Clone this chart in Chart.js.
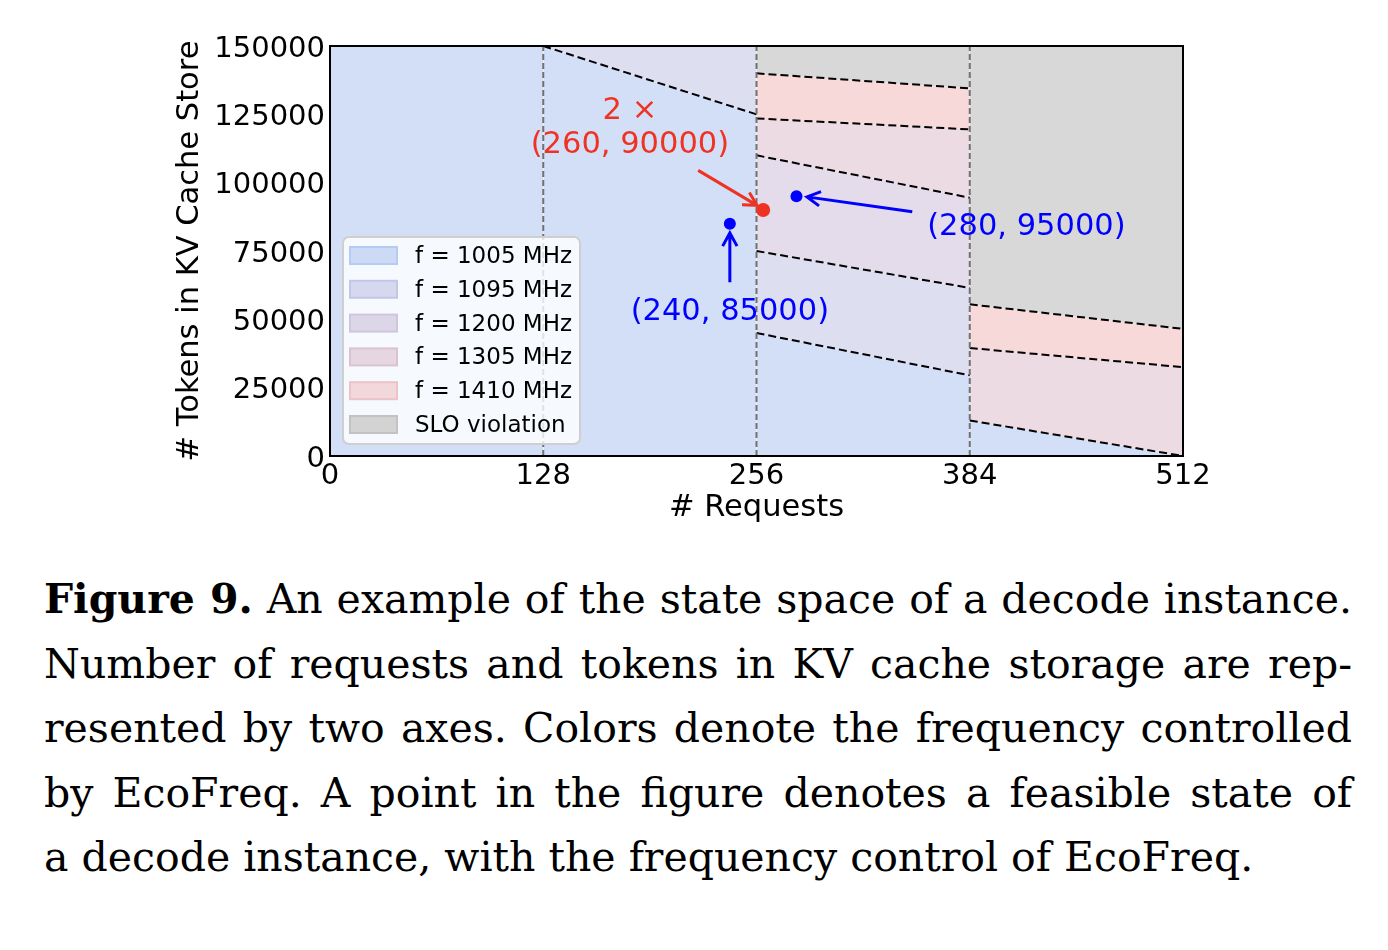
<!DOCTYPE html>
<html>
<head>
<meta charset="utf-8">
<script src="https://cdn.jsdelivr.net/npm/chart.js@4.4.0/dist/chart.umd.min.js"></script>
<style>
  body { margin: 0; background: #fff; width: 1388px; height: 950px; position: relative; overflow: hidden; }
  #wrap { position: absolute; left: 0; top: 0; width: 1388px; height: 540px; }
  #caption { position: absolute; left: 44px; top: 567px; width: 1308px; font-family: 'DejaVu Serif', serif; font-size: 41px; line-height: 64.5px; color: #000; }
  #caption div { text-align: justify; text-align-last: justify; }
  #caption div.last { text-align-last: left; }
</style>
</head>
<body>
<div id="wrap"><canvas id="stateChart" width="1388" height="540"></canvas></div>
<div id="caption">
  <div><b>Figure 9.</b> An example of the state space of a decode instance.</div>
  <div>Number of requests and tokens in KV cache storage are rep-</div>
  <div>resented by two axes. Colors denote the frequency controlled</div>
  <div>by EcoFreq. A point in the figure denotes a feasible state of</div>
  <div class="last">a decode instance, with the frequency control of EcoFreq.</div>
</div>
<script>
// Data
const requestTicks = [0, 128, 256, 384, 512];
const tokenMin = 0;
const tokenMax = 150000;
const tokenStep = 25000;

const segStart = [0, 128, 256, 384];
const segEnd = [128, 256, 384, 512];
// dashed region boundaries inside each segment, top to bottom: [tokens at start, tokens at end]
const segLines = [
  [],
  [[150000, 150000], [150000, 125000]],
  [[140000, 134500], [123500, 119500], [110000, 94500], [75000, 61500], [45000, 29500]],
  [[55500, 46500], [39500, 32500], [13000, 0]]
];
// band between consecutive boundaries, top to bottom (index into freqLabels)
const segBands = [
  [0],
  [1, 1, 0],
  [5, 4, 3, 2, 1, 0],
  [5, 4, 3, 0]
];
const freqLabels = ['f = 1005 MHz', 'f = 1095 MHz', 'f = 1200 MHz', 'f = 1305 MHz', 'f = 1410 MHz', 'SLO violation'];

const pointRequests = [260, 240, 280];
const pointTokens = [90000, 85000, 95000];
const noteLines = [['2 \u00d7', '(260, 90000)'], ['(240, 85000)'], ['(280, 95000)']];

// Styles
const bandFill = ['#d3dff6', '#dddef0', '#e4dcea', '#ecdbe3', '#f7d9d9', '#d8d8d8'];
const swatchFill = ['#ccdaf6', '#d5d8ee', '#ddd6e8', '#e6d6e0', '#f2d7db', '#d3d3d3'];
const swatchEdge = ['#b6cbf3', '#c3c7e6', '#cfc5de', '#d9c3d1', '#ebc3c8', '#c2c2c2'];
const pointColors = ['#ee3322', '#0000ff', '#0000ff'];
const pointSizes = [7, 6, 6];
// where each note sits, in data units: text centre, arrow tail, arrow head
const notePlace = [
  { text: [180, 121100], tail: [221, 104500], head: [256.3, 91700] },
  { text: [240, 53800], tail: [240, 63600], head: [240, 81600] },
  { text: [418, 84900], tail: [349.5, 89400], head: [286.3, 94800] }
];
const FONT = 'DejaVu Sans';

// Build datasets
const datasets = [];
segStart.forEach((x0, s) => {
  const x1 = segEnd[s];
  const bounds = [[tokenMax, tokenMax], ...segLines[s], [tokenMin, tokenMin]];
  bounds.forEach((b, i) => {
    const band = segBands[s][i];
    const hasBand = band !== undefined;
    datasets.push({
      data: [{ x: x0, y: b[0] }, { x: x1, y: b[1] }],
      borderWidth: 0,
      borderColor: 'rgba(0,0,0,0)',
      pointRadius: 0,
      backgroundColor: hasBand ? bandFill[band] : 'rgba(0,0,0,0)',
      fill: hasBand ? '+1' : false,
      order: 3
    });
  });
});

// dashed boundary lines
segStart.forEach((x0, s) => {
  segLines[s].forEach(b => {
    datasets.push({
      data: [{ x: x0, y: b[0] }, { x: segEnd[s], y: b[1] }],
      borderColor: '#000',
      borderWidth: 2,
      borderDash: [8, 4],
      pointRadius: 0,
      fill: false,
      order: 2
    });
  });
});

// vertical dividers at the inner ticks
requestTicks.slice(1, -1).forEach(x => {
  datasets.push({
    data: [{ x: x, y: tokenMin }, { x: x, y: tokenMax }],
    borderColor: '#717171',
    borderWidth: 2,
    borderDash: [6, 3],
    pointRadius: 0,
    fill: false,
    order: 1
  });
});

// example states
datasets.push({
  data: pointRequests.map((x, i) => ({ x: x, y: pointTokens[i] })),
  showLine: false,
  pointRadius: pointSizes,
  pointBackgroundColor: pointColors,
  pointBorderWidth: 0,
  order: 0
});

// Plot frame
const framePlugin = {
  id: 'frame',
  afterDatasetsDraw(chart) {
    const { ctx, chartArea: a } = chart;
    ctx.save();
    ctx.strokeStyle = '#000';
    ctx.lineWidth = 2;
    ctx.strokeRect(a.left, a.top, a.right - a.left, a.bottom - a.top);
    ctx.restore();
  }
};

// Legend box in the lower left corner
const legendPlugin = {
  id: 'bandLegend',
  afterDraw(chart) {
    const { ctx, chartArea: a } = chart;
    const w = 237, h = 207;
    const x = a.left + 13, y = a.bottom - 12 - h;
    ctx.save();
    ctx.beginPath();
    ctx.roundRect(x, y, w, h, 6);
    ctx.fillStyle = 'rgba(255,255,255,0.8)';
    ctx.fill();
    ctx.strokeStyle = '#cfcfcf';
    ctx.lineWidth = 2;
    ctx.stroke();
    ctx.font = '23px "' + FONT + '"';
    ctx.textBaseline = 'middle';
    freqLabels.forEach((label, i) => {
      const cy = y + 18.5 + i * 33.8;
      ctx.fillStyle = swatchFill[i];
      ctx.fillRect(x + 7, cy - 8.5, 47, 17);
      ctx.strokeStyle = swatchEdge[i];
      ctx.lineWidth = 2;
      ctx.strokeRect(x + 7, cy - 8.5, 47, 17);
      ctx.fillStyle = '#000';
      ctx.fillText(label, x + 72, cy + 1.5);
    });
    ctx.restore();
  }
};

// Annotations with arrows
function drawArrow(ctx, x0, y0, x1, y1, color) {
  const ang = Math.atan2(y1 - y0, x1 - x0);
  const L = 15, spread = 0.5;
  ctx.strokeStyle = color;
  ctx.lineWidth = 3;
  ctx.beginPath();
  ctx.moveTo(x0, y0);
  ctx.lineTo(x1, y1);
  ctx.moveTo(x1 - L * Math.cos(ang - spread), y1 - L * Math.sin(ang - spread));
  ctx.lineTo(x1, y1);
  ctx.lineTo(x1 - L * Math.cos(ang + spread), y1 - L * Math.sin(ang + spread));
  ctx.stroke();
}

const notePlugin = {
  id: 'notes',
  afterDraw(chart) {
    const { ctx, scales: { x, y } } = chart;
    ctx.save();
    ctx.font = '30.5px "' + FONT + '"';
    ctx.textAlign = 'center';
    ctx.textBaseline = 'middle';
    notePlace.forEach((p, i) => {
      const color = pointColors[i];
      drawArrow(ctx, x.getPixelForValue(p.tail[0]), y.getPixelForValue(p.tail[1]),
        x.getPixelForValue(p.head[0]), y.getPixelForValue(p.head[1]), color);
      const lines = noteLines[i];
      const cx = x.getPixelForValue(p.text[0]);
      const cy = y.getPixelForValue(p.text[1]) + 3;
      ctx.fillStyle = color;
      lines.forEach((t, k) => {
        ctx.fillText(t, cx, cy + (k - (lines.length - 1) / 2) * 34);
      });
    });
    ctx.restore();
  }
};

const tickFont = { family: FONT, size: 29 };
const titleFont = { family: FONT, size: 30.5 };

new Chart(document.getElementById('stateChart'), {
  type: 'line',
  data: { datasets: datasets },
  options: {
    responsive: false,
    animation: false,
    events: [],
    layout: { padding: { left: 170, right: 205, top: 46, bottom: 4 } },
    plugins: { legend: { display: false }, tooltip: { enabled: false } },
    scales: {
      x: {
        type: 'linear',
        min: requestTicks[0],
        max: requestTicks[requestTicks.length - 1],
        afterBuildTicks: s => { s.ticks = requestTicks.map(v => ({ value: v })); },
        afterFit: s => { s.height = 80; },
        grid: { display: false, drawTicks: false },
        border: { display: false },
        ticks: { font: tickFont, color: '#000', padding: 3, maxRotation: 0, autoSkip: false, callback: v => String(v) },
        title: { display: true, text: '# Requests', font: titleFont, color: '#000', padding: { top: 0, bottom: 10 } }
      },
      y: {
        min: tokenMin,
        max: tokenMax,
        afterFit: s => { s.width = 160; },
        grid: { display: false, drawTicks: false },
        border: { display: false },
        ticks: { stepSize: tokenStep, font: tickFont, color: '#000', padding: 5, labelOffset: 3, callback: v => String(v) },
        title: { display: true, text: '# Tokens in KV Cache Store', font: titleFont, color: '#000', padding: { top: 2, bottom: 0 } }
      }
    }
  },
  plugins: [framePlugin, legendPlugin, notePlugin]
});
</script>
</body>
</html>
